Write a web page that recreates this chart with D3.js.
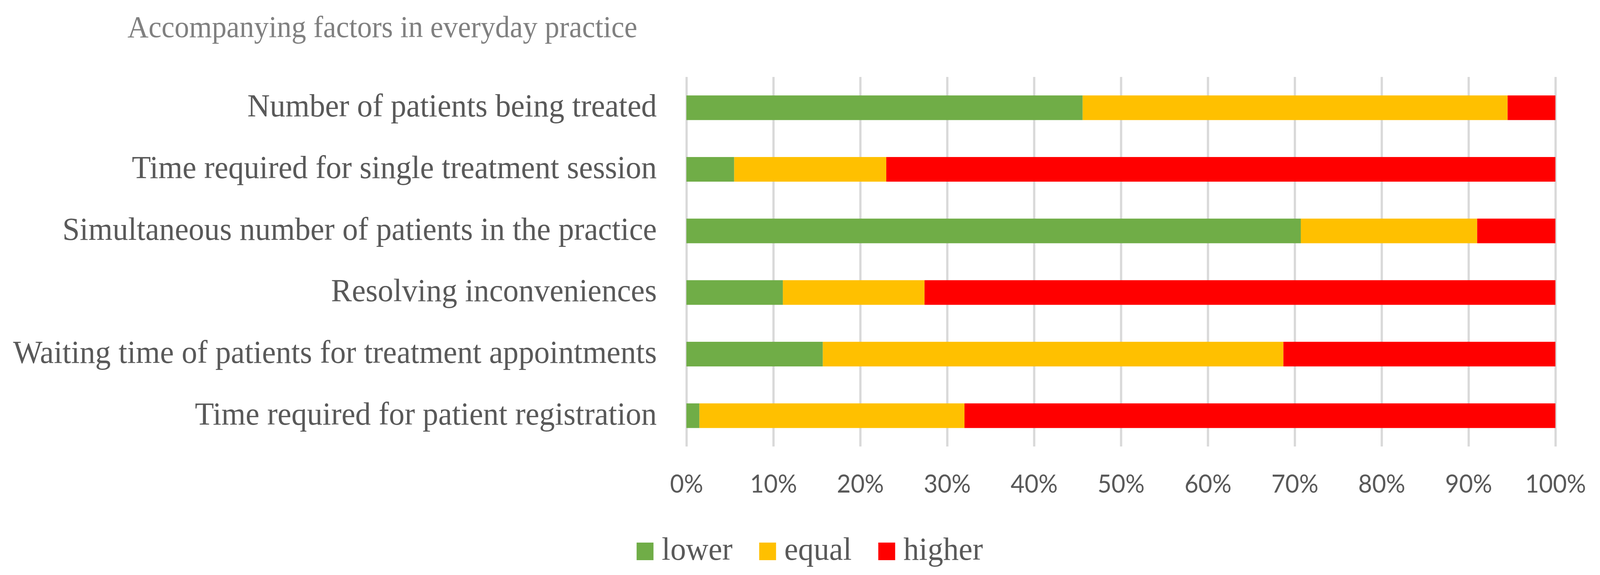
<!DOCTYPE html>
<html>
<head>
<meta charset="utf-8">
<script src="https://cdnjs.cloudflare.com/ajax/libs/d3/7.8.5/d3.min.js"></script>
<style>
  html, body { margin: 0; padding: 0; background: #fff; width: 100%; height: 100%; overflow: hidden; }
  svg { display: block; }
</style>
</head>
<body>
<script>
const categories = [
    "Number of patients being treated",
    "Time required for single treatment session",
    "Simultaneous number of patients in the practice",
    "Resolving inconveniences",
    "Waiting time of patients for treatment appointments",
    "Time required for patient registration"
];
const lower  = [45.6,  5.5, 70.7, 11.1, 15.7,  1.5];
const equal  = [48.9, 17.5, 20.3, 16.3, 53.0, 30.5];
const higher = [ 5.5, 77.0,  9.0, 72.6, 31.3, 68.0];
const seriesNames = ["lower", "equal", "higher"];
const seriesColors = ["#70AD47", "#FFC000", "#FF0000"];
const xTicks = [0, 10, 20, 30, 40, 50, 60, 70, 80, 90, 100];
const title = "Accompanying factors in everyday practice";

const width = 4268, height = 1472;
const serif = "'Palatino Linotype', 'Book Antiqua', Palatino, 'Liberation Serif', serif";

// viewBox stretched over the viewport so the whole chart always fills it
const svg = d3.select("body").append("svg")
    .attr("viewBox", "0 0 " + width + " " + height)
    .attr("preserveAspectRatio", "none")
    .style("width", "100%")
    .style("height", "100%");

// rows for the stack, built from the arrays above
const rows = categories.map(function(c, i) {
    return {category: c, lower: lower[i], equal: equal[i], higher: higher[i]};
});
const stacked = d3.stack().keys(seriesNames)
    .offset(d3.stackOffsetExpand)(rows);

const x = d3.scaleLinear().domain([0, 100]).range([1831, 4149]);
const y = d3.scaleBand().domain(categories)
    .range([197, 1143])
    .paddingInner(0.6)
    .paddingOuter(0.3);
const color = d3.scaleOrdinal().domain(seriesNames).range(seriesColors);

// title
svg.append("text")
    .attr("x", 340)
    .attr("y", 95)
    .attr("font-family", serif)
    .attr("font-size", 78)
    .attr("fill", "#808080")
    .text(title);

// vertical gridlines + percent labels
const xAxis = svg.append("g")
    .attr("transform", "translate(0," + y.range()[1] + ")")
    .call(d3.axisBottom(x)
        .tickValues(xTicks)
        .tickSizeInner(-(y.range()[1] - y.range()[0]))
        .tickSizeOuter(0)
        .tickFormat(d => d + "%"));
xAxis.select(".domain").remove();
xAxis.selectAll(".tick line")
    .attr("stroke", "#D9D9D9")
    .attr("stroke-width", 6);
xAxis.selectAll(".tick text")
    .attr("y", 118)
    .attr("dy", 0)
    .attr("font-family", "Lato, 'Open Sans', sans-serif")
    .attr("font-size", 64)
    .attr("fill", "#595959");

// bars
svg.append("g")
    .selectAll("g")
    .data(stacked)
    .join("g")
    .attr("fill", d => color(d.key))
    .selectAll("rect")
    .data(d => d)
    .join("rect")
    .attr("x", d => x(d[0] * 100))
    .attr("width", d => x(d[1] * 100) - x(d[0] * 100))
    .attr("y", d => y(d.data.category))
    .attr("height", y.bandwidth());

// category labels
const yAxis = svg.append("g")
    .attr("transform", "translate(" + x(0) + ",0)")
    .call(d3.axisLeft(y).tickSize(0).tickPadding(79));
yAxis.select(".domain").remove();
yAxis.selectAll(".tick text")
    .attr("dy", "0.27em")
    .attr("font-family", serif)
    .attr("font-size", 83)
    .attr("fill", "#595959");

// legend, laid out left to right and centred
const legend = svg.append("g");
const items = legend.selectAll("g")
    .data(seriesNames)
    .join("g");
items.append("rect")
    .attr("width", 45)
    .attr("height", 45)
    .attr("y", -45)
    .attr("fill", d => color(d));
items.append("text")
    .attr("x", 67)
    .attr("y", -1)
    .attr("font-family", serif)
    .attr("font-size", 83)
    .attr("fill", "#595959")
    .text(d => d);

let cursor = 0;
items.each(function() {
    const g = d3.select(this);
    const w = 67 + g.select("text").node().getComputedTextLength();
    g.attr("transform", "translate(" + cursor + ",0)");
    cursor += w + 71;
});
const legendWidth = cursor - 71;
legend.attr("transform", "translate(" + (2160 - legendWidth / 2) + ",1434)");
</script>
</body>
</html>
